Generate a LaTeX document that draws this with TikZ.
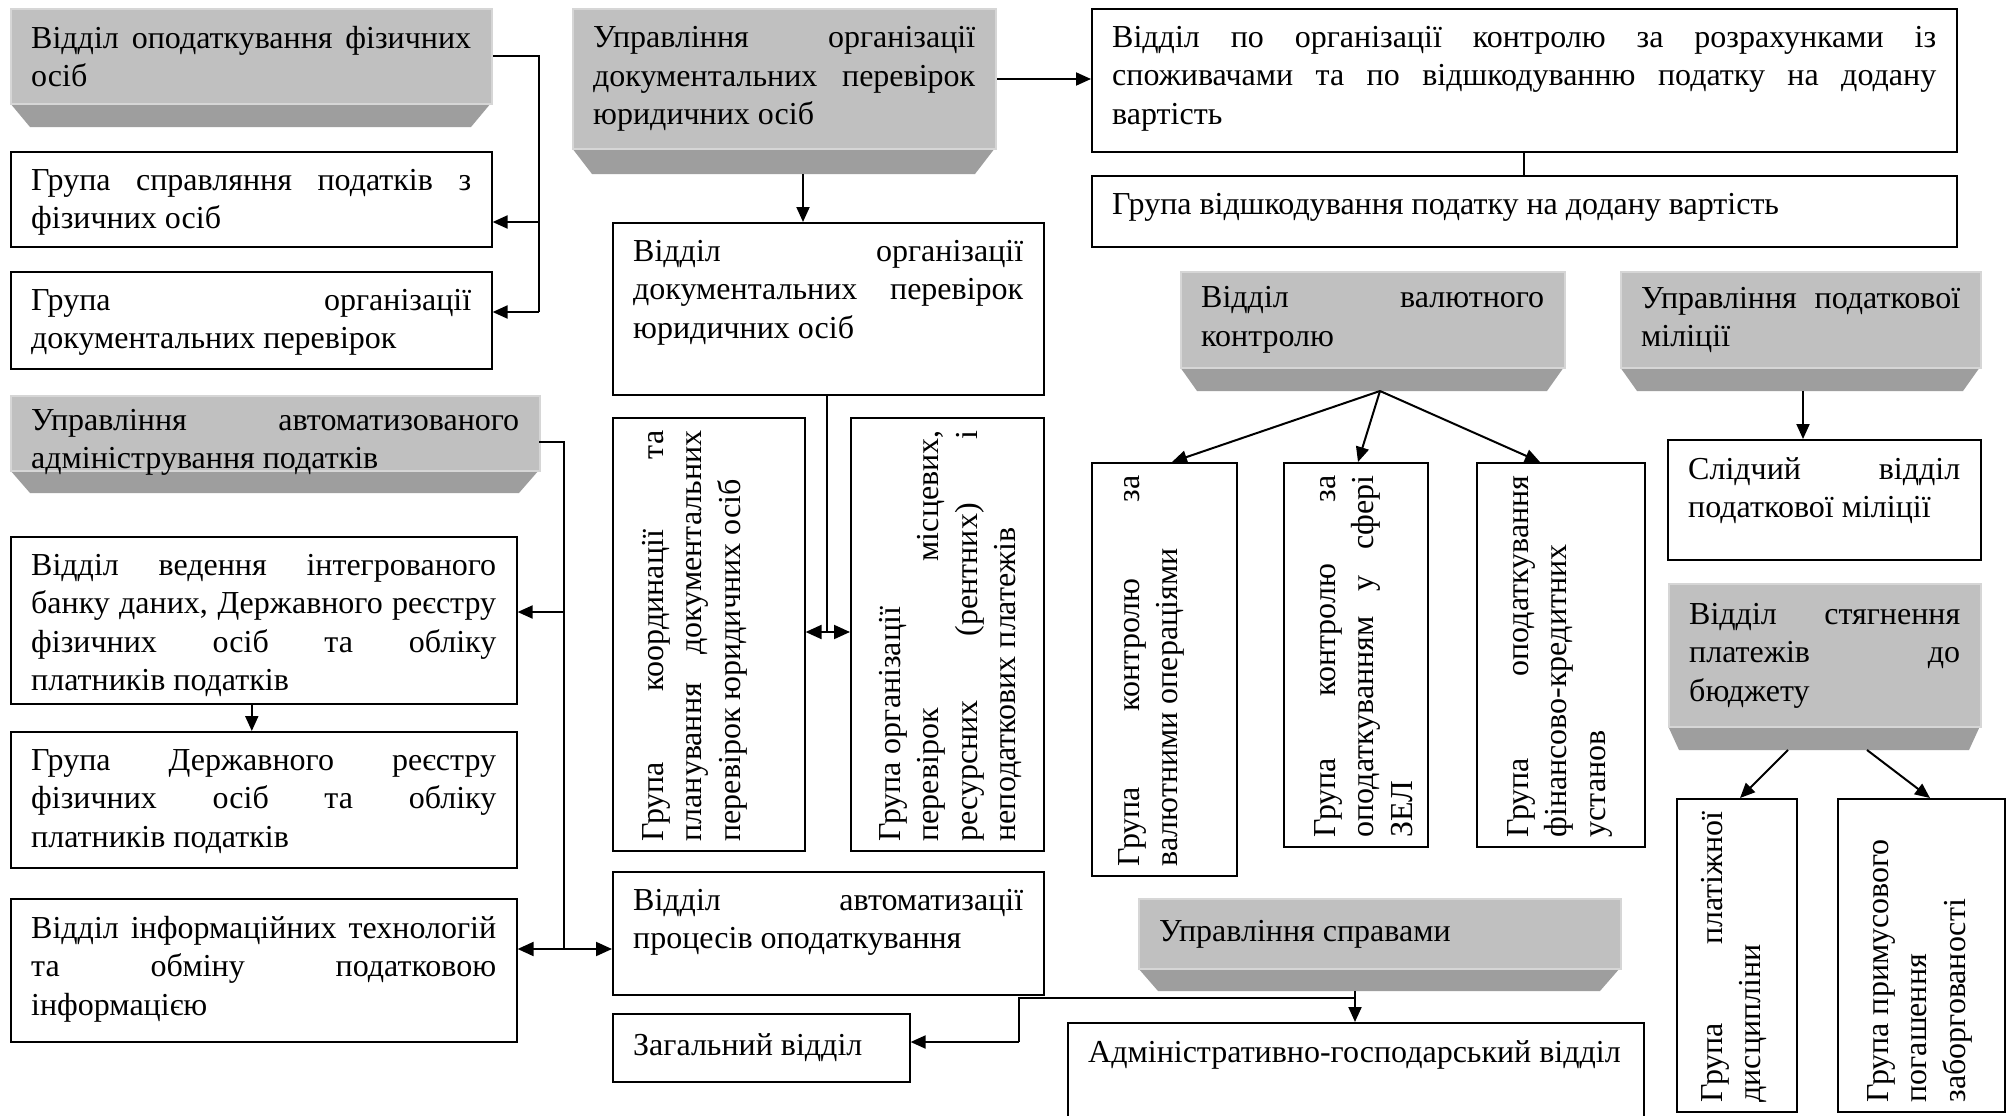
\documentclass[tikz,border=0pt]{standalone}
\usepackage{fontspec}
\setmainfont{Liberation Serif}
\usetikzlibrary{arrows.meta,calc}
\definecolor{facec}{RGB}{192,192,192}
\definecolor{bevelc}{RGB}{158,158,158}
\definecolor{faceedge}{RGB}{214,214,214}
\hyphenpenalty=10000
\exhyphenpenalty=10000
\tolerance=10000
\hbadness=10000
\hfuzz=20pt
\tikzset{
  frame/.style={draw, line width=1.6pt, inner sep=0pt, anchor=north west},
  gframe/.style={fill=facec, draw=faceedge, line width=2pt, inner sep=0pt, anchor=north west},
  txt/.style={inner sep=0pt, align=justify, anchor=north west,
    font=\fontsize{32}{38.5}\selectfont},
  conn/.style={line width=2pt},
  arr/.style={line width=2pt, -{Triangle[length=15pt,width=13pt]}},
  darr/.style={line width=2pt, {Triangle[length=16pt,width=14pt]}-{Triangle[length=16pt,width=14pt]}},
}
% white box: name x1 y1 x2 y2 toppad text
\newcommand\wbox[7]{%
  \node[frame, minimum width={#4-#2}, minimum height={#5-#3}] (#1) at (#2,#3) {};
  \node[txt, text width={#4-#2-41}] (#1t) at ([xshift=21pt,yshift=-#6pt]#1.north west) {#7};}
% gray bevelled box: name x1 y1 x2 yface ybevel inset textshift text
\newcommand\gbox[9]{%
  \fill[bevelc] (#2,#5) -- (#4,#5) -- ({#4-#7},#6) -- ({#2+#7},#6) -- cycle;
  \node[gframe, minimum width={#4-#2}, minimum height={#5-#3}] (#1) at (#2,#3) {};
  \node[txt, text width={#4-#2-41}, anchor=west] (#1t) at ([xshift=21pt,yshift=-#8pt]#1.west) {#9};}
% box with rotated text: name x1 y1 x2 y2 crosspad text
\newcommand\vtbox[7]{%
  \node[frame, minimum width={#4-#2}, minimum height={#5-#3}] (#1) at (#2,#3) {};
  \node[txt, rotate=90, text width={#5-#3-22}] (#1t) at ([xshift=#6pt,yshift=10pt]#1.south west) {#7};}
\begin{document}
\begin{tikzpicture}[x=1pt,y=-1pt]
\useasboundingbox (0,0) rectangle (2011,1116);
\fill[white] (0,0) rectangle (2011,1116);
% left column
\gbox{A}{10}{8}{491}{103}{127}{20}{0}{Відділ оподаткування фізичних\linebreak осіб}
\wbox{B}{10}{151}{491}{246}{18}{Група справляння податків з\linebreak фізичних осіб}
\wbox{C}{10}{271}{491}{368}{18}{Група організації\linebreak документальних перевірок}
\gbox{D}{10}{395}{539}{470}{493}{20}{9}{Управління автоматизованого\linebreak адміністрування податків}
\wbox{E}{10}{536}{516}{703}{18}{Відділ ведення інтегрованого\linebreak банку даних, Державного реєстру\linebreak фізичних осіб та обліку\linebreak платників податків}
\wbox{F}{10}{731}{516}{867}{18}{Група Державного реєстру\linebreak фізичних осіб та обліку\linebreak платників податків}
\wbox{G}{10}{898}{516}{1041}{18}{Відділ інформаційних технологій\linebreak та обміну податковою\linebreak інформацією}
% centre column
\gbox{I}{572}{8}{995}{148}{174}{20}{0}{Управління організації\linebreak документальних перевірок\linebreak юридичних осіб}
\wbox{K}{612}{222}{1043}{394}{18}{Відділ організації\linebreak документальних перевірок\linebreak юридичних осіб}
\vtbox{L}{612}{417}{804}{850}{30}{Група координації та\linebreak планування документальних\linebreak перевірок юридичних осіб}
\vtbox{M}{850}{417}{1043}{850}{29}{Група організації\newline перевірок місцевих,\linebreak ресурсних (рентних) і\linebreak неподаткових платежів}
\wbox{H}{612}{871}{1043}{994}{18}{Відділ автоматизації\linebreak процесів оподаткування}
\wbox{N}{612}{1013}{909}{1081}{20}{Загальний відділ}
\gbox{O}{1138}{898}{1620}{968}{991}{20}{0}{Управління справами}
\wbox{P}{1067}{1022}{1643}{1140}{18}{\mbox{Адміністративно-господарський відділ}}
% right part
\wbox{J}{1091}{8}{1956}{151}{18}{Відділ по організації контролю за розрахунками із\linebreak споживачами та по відшкодуванню податку на додану\linebreak вартість}
\wbox{Q}{1091}{175}{1956}{246}{18}{Група відшкодування податку на додану вартість}
\gbox{R}{1180}{271}{1564}{367}{391}{17}{0}{Відділ валютного\linebreak контролю}
\vtbox{S1}{1091}{462}{1236}{875}{27}{Група контролю за\linebreak валютними операціями}
\vtbox{S2}{1283}{462}{1427}{846}{31}{Група контролю за\linebreak оподаткуванням у сфері\linebreak ЗЕЛ}
\vtbox{S3}{1476}{462}{1644}{846}{31}{Група оподаткування\linebreak фінансово-кредитних\newline установ}
\gbox{T}{1620}{271}{1980}{367}{391}{17}{0}{Управління податкової\linebreak міліції}
\wbox{U}{1667}{439}{1980}{559}{18}{Слідчий відділ\linebreak податкової міліції}
\gbox{V}{1668}{583}{1980}{726}{750}{11}{0}{Відділ стягнення\linebreak платежів до\linebreak бюджету}
\vtbox{W}{1676}{798}{1796}{1111}{25}{Група платіжної\linebreak дисципліни}
\vtbox{X}{1837}{798}{2004}{1111}{30}{Група примусового\newline погашення\newline заборгованості}
% connectors
\coordinate (ab) at (539,222);
\coordinate (ac) at (539,312);
\draw[conn] (A.east) -| (ac);
\draw[arr] (ab) -- (ab -| B.east);
\draw[arr] (ac) -- (ac -| C.east);
\coordinate (d0) at (539,442);
\coordinate (dv) at (564,949);
\coordinate (de) at (564,612);
\draw[conn] (d0) -| (dv);
\draw[arr] (de) -- (de -| E.east);
\draw[darr] (dv -| G.east) -- (dv -| H.west);
\draw[arr] ([xshift=-12pt]E.south) -- ([xshift=-12pt]F.north);
\draw[arr] (I.east) -- (I.east -| J.west);
\coordinate (ib) at (803,174);
\draw[arr] (ib) -- (ib |- K.north);
\draw[conn] (J.south) -- (Q.north);
\coordinate (km) at (827,632);
\draw[conn] (K.south -| km) -- (km);
\draw[darr] (km -| L.east) -- (km -| M.west);
\coordinate (ob) at (1355,991);
\coordinate (oh) at (1355,998);
\coordinate (nh) at (1019,998);
\coordinate (nv) at (1019,1042);
\draw[arr] (ob) -- (ob |- P.north);
\draw[conn] (oh) -- (nh) -- (nv);
\draw[arr] (nv) -- (nv -| N.east);
\coordinate (rb) at (1380,391);
\draw[arr] (rb) -- ([xshift=81pt]S1.north west);
\draw[arr] (rb) -- ([xshift=75pt]S2.north west);
\draw[arr] (rb) -- ([xshift=64pt]S3.north west);
\coordinate (tb) at (1803,391);
\draw[arr] (tb) -- (tb |- U.north);
\coordinate (vb1) at (1788,750);
\coordinate (vb2) at (1867,750);
\draw[arr] (vb1) -- ([xshift=64pt]W.north west);
\draw[arr] (vb2) -- ([xshift=93pt]X.north west);
\end{tikzpicture}
\end{document}
